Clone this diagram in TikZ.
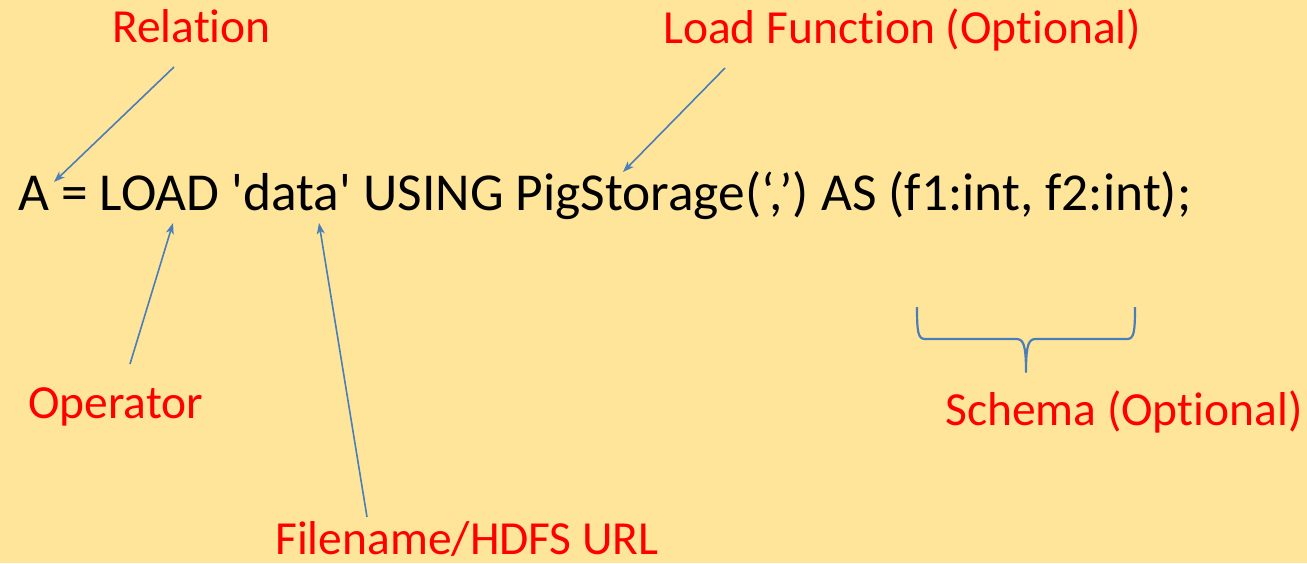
\documentclass[tikz,border=0pt]{standalone}
\usepackage{fontspec}
\setmainfont{Carlito}[Ligatures={NoCommon}]
\usetikzlibrary{arrows.meta}
\definecolor{bg}{HTML}{FFE599}
\definecolor{pointer}{HTML}{4A7EBB}
\definecolor{labelred}{HTML}{FF0000}
\tikzset{
  code/.style={anchor=base west, inner sep=0pt, font=\fontsize{53.4}{58}\selectfont, text=black},
  tag/.style={anchor=base west, inner sep=0pt, font=\fontsize{47.5}{52}\selectfont, text=labelred},
  pointarrow/.style={draw=pointer, line width=1.6pt, -{Stealth[length=11pt,width=8pt,inset=3pt]}},
  brace/.style={draw=pointer, line width=2.2pt, line join=round}
}
\begin{document}
\begin{tikzpicture}[x=1pt,y=-1pt]
  \fill[bg] (0,0) rectangle (1307,563);
  \useasboundingbox (0,0) rectangle (1307,563);

  % statement
  \node[code] (stmt) at (18,210) {A = LOAD \textquotesingle data\textquotesingle{} USING PigStorage(‘,’) AS (f1:int, f2:int);};

  % labels
  \node[tag] (rel)    at (112,42)  {Relation};
  \node[tag] (loadfn) at (663,43)  {Load Function (Optional)};
  \node[tag] (op)     at (28,418)  {Operator};
  \node[tag] (file)   at (275,554) {Filename/HDFS URL};
  \node[tag] (schema) at (945,425) {Schema (Optional)};

  % arrow ends
  \coordinate (relS)  at (174,67);
  \coordinate (relT)  at (54,182);
  \coordinate (lfS)   at (725,68);
  \coordinate (lfT)   at (623,172);
  \coordinate (opS)   at (130,364);
  \coordinate (opT)   at (173,223);
  \coordinate (fileS) at (367,517);
  \coordinate (fileT) at (319,223);

  \draw[pointarrow] (relS) -- (relT);
  \draw[pointarrow] (lfS) -- (lfT);
  \draw[pointarrow] (opS) -- (opT);
  \draw[pointarrow] (fileS) -- (fileT);

  % brace over the schema
  \coordinate (bl) at (917,307);
  \coordinate (br) at (1135,307);
  \coordinate (bt) at (1026,372);
  \draw[brace] (bl) .. controls (917,332) and (918,339) .. (925,339)
    -- (1016,339) .. controls (1023,339) and (1026,343) .. (bt)
    .. controls (1026,343) and (1029,339) .. (1036,339)
    -- (1127,339) .. controls (1134,339) and (1135,332) .. (br);
\end{tikzpicture}
\end{document}
